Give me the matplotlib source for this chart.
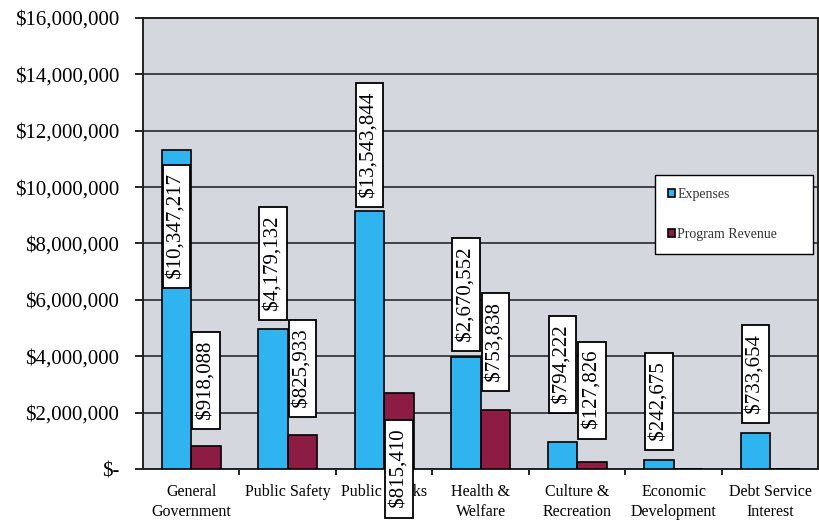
import numpy as np
import matplotlib.pyplot as plt
from matplotlib.ticker import FuncFormatter

plt.rcParams['font.family'] = ['Liberation Serif', 'DejaVu Serif']

categories = ['General\nGovernment', 'Public Safety', 'Public Works', 'Health &\nWelfare',
              'Culture &\nRecreation', 'Economic\nDevelopment', 'Debt Service\nInterest']
expenses = [11300000, 4960000, 9150000, 3970000, 960000, 320000, 1280000]
revenue = [820000, 1200000, 2700000, 2090000, 250000, 0, 0]
expense_labels = ['$10,347,217', '$4,179,132', '$13,543,844', '$2,670,552',
                  '$794,222', '$242,675', '$733,654']
revenue_labels = ['$918,088', '$825,933', '$815,410', '$753,838', '$127,826', None, None]

# where the label boxes sit (centre, in axis units)
expense_label_y = [8600000, 7300000, 11500000, 6200000, 3700000, 2400000, 3370000]
revenue_label_y = [3140000, 3570000, 0, 4500000, 2800000, None, None]

x = np.arange(len(categories))
w = 0.305
blue = '#30b4ef'
maroon = '#8c1c43'

fig = plt.figure(figsize=(8.2, 5.29), dpi=100)
ax = fig.add_axes([0.1744, 0.1134, 0.8236, 0.8526])
ax.set_facecolor('#d5d7df')

ax.bar(x - w / 2, expenses, w, color=blue, edgecolor='black', linewidth=1.2,
       label='Expenses', zorder=3)
ax.bar(x + w / 2, revenue, w, color=maroon, edgecolor='black', linewidth=1.2,
       label='Program Revenue', zorder=3)

box = dict(boxstyle='square,pad=0.2', facecolor='white', edgecolor='black', linewidth=1.3)
for i in range(len(categories)):
    ax.text(x[i] - w / 2, expense_label_y[i], ' ' + expense_labels[i] + ' ', rotation=90,
            ha='center', va='center', fontsize=15, bbox=box, zorder=5, clip_on=False)
    if revenue_labels[i]:
        ax.text(x[i] + w / 2, revenue_label_y[i], ' ' + revenue_labels[i] + ' ', rotation=90,
                ha='center', va='center', fontsize=15, bbox=box, zorder=5, clip_on=False)

ax.set_ylim(0, 16000000)
ax.set_xlim(-0.5, len(categories) - 0.5)
ax.set_yticks(np.arange(0, 16000001, 2000000))
ax.yaxis.set_major_formatter(FuncFormatter(lambda v, p: '$-' if v == 0 else f'${v:,.0f}'))
ax.tick_params(axis='y', labelsize=15, length=6, width=1.2, pad=11)
ax.grid(axis='y', color='#34373f', linewidth=1.3, zorder=1)

ax.set_xticks(x)
ax.set_xticklabels(categories, fontsize=11.5, linespacing=1.3)
ax.set_xticks(np.arange(0.5, len(categories) - 0.5), minor=True)
ax.tick_params(axis='x', which='major', length=0, pad=11)
ax.tick_params(axis='x', which='minor', length=4, width=1.2)

for s in ax.spines.values():
    s.set_color('#222222')
    s.set_linewidth(1.4)

leg = ax.legend(loc='upper left', bbox_to_anchor=(0.758, 0.0, 0.234, 0.652), mode='expand',
                fontsize=10, frameon=True, fancybox=False, edgecolor='black', framealpha=1,
                handlelength=0.5, handleheight=0.5, handletextpad=0.15,
                labelspacing=1.95, borderpad=0.95, borderaxespad=0)
leg.get_frame().set_linewidth(1.0)
leg.set_zorder(6)
for t in leg.get_texts():
    t.set_color('#333333')

fig.savefig('out.png', dpi=100)
